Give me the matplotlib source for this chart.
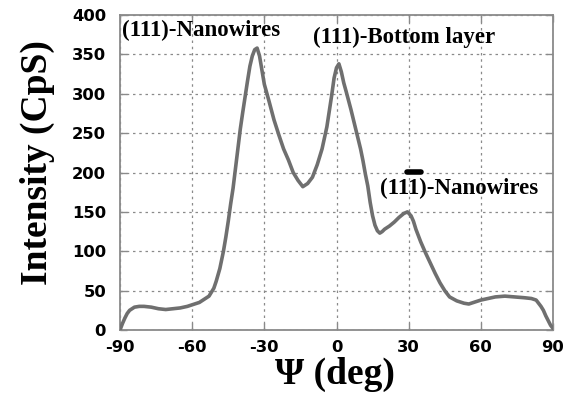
import matplotlib
matplotlib.use("Agg")
import matplotlib.pyplot as plt

# Data (Psi in deg, intensity in CpS)
psi = [-90, -89, -88, -87, -86, -84, -82, -80, -77, -74, -71, -68, -65, -62, -60,
       -57, -55, -53, -51, -50, -48.5, -47, -46, -45, -44, -43, -42, -41, -40, -39,
       -38, -37, -36, -35, -34, -33, -32, -31, -30, -28, -26, -24, -22, -20, -18,
       -16, -14, -12, -10, -8, -6, -4, -2, -1, 0, 1, 2, 3, 4, 6, 8, 10, 11, 12, 13,
       14, 15, 16, 17, 18, 19, 20, 22, 24, 26, 28, 29.5, 31, 32, 33, 35, 37, 39,
       41, 43, 45, 47, 50, 53, 55, 57, 60, 63, 66, 70, 74, 78, 81, 83, 84, 85, 86,
       87, 88, 89, 90]
intensity = [0, 8, 15, 21, 25, 29, 30, 30, 29, 27, 26, 27, 28, 30, 32,
             35, 39, 43, 53, 62, 78, 100, 118, 138, 160, 180, 205, 230, 255, 276,
             296, 316, 335, 348, 356, 358, 348, 330, 312, 290, 267, 248, 230, 216, 200,
             190, 182, 186, 194, 210, 230, 258, 298, 320, 333, 338, 328, 314, 303, 280, 255, 230, 215, 198, 183,
             162, 145, 133, 126, 123, 125, 128, 132, 137, 143, 148, 150, 145, 138, 128, 112, 98, 85,
             72, 60, 50, 42, 37, 34, 33, 35, 38, 40, 42, 43, 42, 41, 40, 38, 34, 30, 25,
             18, 12, 6, 2]

x_ticks = [-90, -60, -30, 0, 30, 60, 90]
y_ticks = [0, 50, 100, 150, 200, 250, 300, 350, 400]
x_label = "Ψ (deg)"
y_label = "Intensity (CpS)"
annotations = [("(111)-Nanowires", -89.2, 381),
               ("(111)-Bottom layer", -9.8, 371),
               ("(111)-Nanowires", 18.1, 180)]
bar_x = [29.3, 35.3]
bar_y = [201, 201]

serif = ["Liberation Serif", "DejaVu Serif"]
sans = ["DejaVu Sans"]

fig = plt.figure(figsize=(5.69, 4.0), dpi=100)
ax = fig.add_axes([120/569, 70/400, 433/569, 315/400])

ax.plot(psi, intensity, color="#6f6f6f", lw=2.6, solid_joinstyle="round", zorder=3)
ax.plot(bar_x, bar_y, color="black", lw=4, solid_capstyle="round", zorder=4)

for txt, x, y in annotations:
    ax.text(x, y, txt, family=serif, fontweight="bold", fontsize=16.5,
            ha="left", va="center", zorder=5)

ax.set_xlim(-90, 90)
ax.set_ylim(0, 400)
ax.set_xticks(x_ticks)
ax.set_yticks(y_ticks)
ax.set_xticklabels([str(v) for v in x_ticks], family=sans, fontweight="bold", fontsize=11.8)
ax.set_yticklabels([str(v) for v in y_ticks], family=sans, fontweight="bold", fontsize=11.8)
ax.tick_params(axis="both", direction="in", length=5, color="#8a8a8a", width=1,
               top=True, right=True)
ax.tick_params(axis="x", pad=7)
ax.tick_params(axis="y", pad=10)
ax.grid(True, color="#8a8a8a", linestyle=(0, (2, 3)), lw=0.9)
for s in ax.spines.values():
    s.set_color("#8a8a8a")
    s.set_linewidth(1.3)

ax.set_xlabel(x_label, family=serif, fontweight="bold", fontsize=27)
ax.xaxis.set_label_coords(0.497, -0.085)
ax.set_ylabel(y_label, family=serif, fontweight="bold", fontsize=27)
ax.yaxis.set_label_coords(-0.150, 0.533)

fig.savefig("out.png", dpi=100)
